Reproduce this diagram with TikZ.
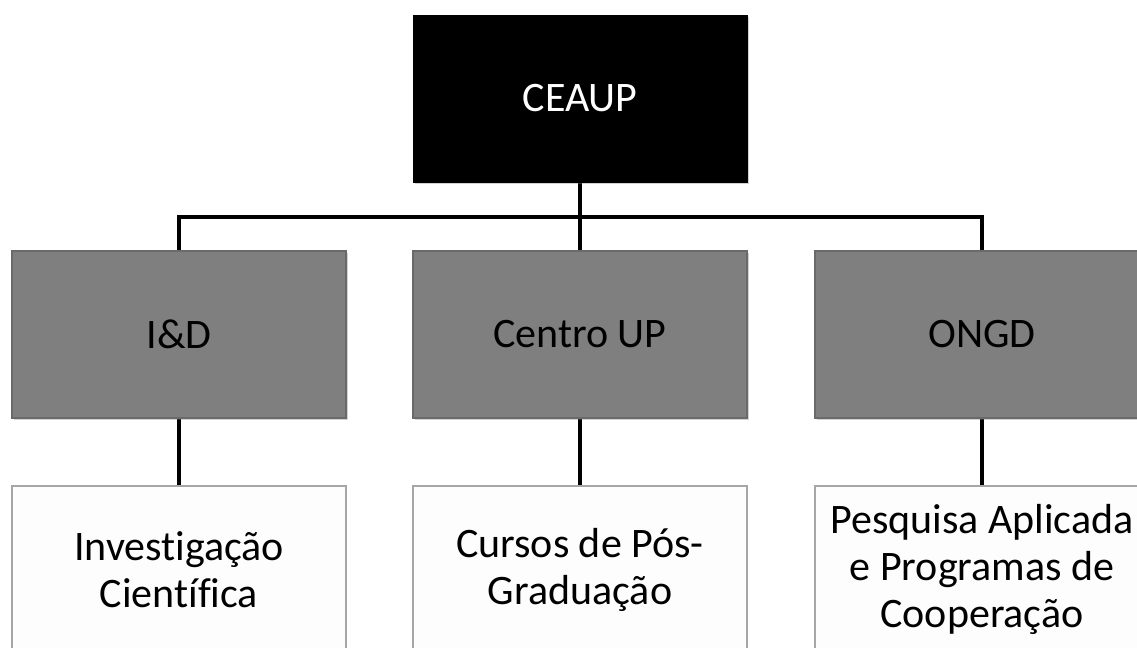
\documentclass[tikz,border=0pt]{standalone}
\usepackage{fontspec}
\setmainfont{Carlito}[Ligatures=NoCommon]
\usepackage{tikz}
\usetikzlibrary{shadows}

\definecolor{boxgray}{HTML}{7F7F7F}
\definecolor{edgegray}{HTML}{6A6A6A}
\definecolor{paleedge}{HTML}{A6A6A6}
\definecolor{palefill}{HTML}{FDFDFD}

\begin{document}
\begin{tikzpicture}[x=0.5pt,y=-0.5pt,
    unit/.style={rectangle,minimum width=167pt,minimum height=83.5pt,
      inner sep=0pt,align=center,font=\fontsize{21}{23.5}\selectfont},
    topunit/.style={unit,fill=black,draw=black,text=white,
      drop shadow={shadow xshift=1.2pt,shadow yshift=-1.2pt,opacity=0.35}},
    midunit/.style={unit,fill=boxgray,draw=edgegray,line width=0.6pt,
      drop shadow={shadow xshift=1.2pt,shadow yshift=-1.2pt,opacity=0.35}},
    lowunit/.style={unit,fill=palefill,draw=paleedge,line width=0.6pt},
    link/.style={line width=2pt}]
  \useasboundingbox
    (0,0)
    rectangle
    (1137,648);
  \clip
    (0,0)
    rectangle
    (1137,648);
  \fill[white]
    (0,0)
    rectangle
    (1137,648);
  % bus height
  \coordinate (bus) at (580,217);
  % connectors first, boxes on top
  \path
    (580,98.5) coordinate (c0)
    (179,334.5) coordinate (c1)
    (580,334.5) coordinate (c2)
    (982,334.5) coordinate (c3)
    (179,569.5) coordinate (c4)
    (580,569.5) coordinate (c5)
    (982,569.5) coordinate (c6);
  \draw[link]
    (c1)
    |-
    (bus)
    -|
    (c3);
  \draw[link]
    (c0)
    --
    (c5);
  \draw[link]
    (c1)
    --
    (c4);
  \draw[link]
    (c3)
    --
    (c6);
  % boxes
  \node[topunit] (ceaup) at (c0) {CEAUP};
  \node[midunit] (id) at (c1) {I\&D};
  \node[midunit] (centro) at (c2) {Centro UP};
  \node[midunit] (ongd) at (c3) {ONGD};
  \node[lowunit] (invest) at (c4) {Investigação\\Científica};
  \node[lowunit] (cursos) at (c5) {Cursos de Pós-\\Graduação};
  \node[lowunit] (pesquisa) at (c6) {Pesquisa Aplicada\\e Programas de\\Cooperação};
\end{tikzpicture}
\end{document}
